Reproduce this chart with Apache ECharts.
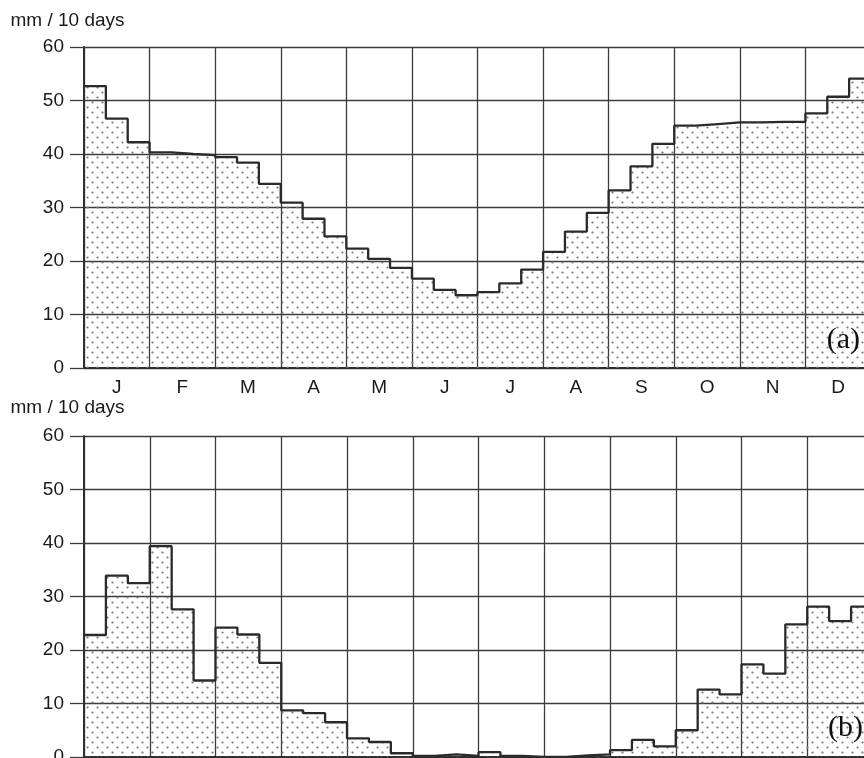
<!DOCTYPE html>
<html>
<head>
<meta charset="utf-8">
<script src="https://cdn.jsdelivr.net/npm/echarts@6/dist/echarts.min.js"></script>
<style>
html,body{margin:0;padding:0;background:#fff;}
#chart{width:864px;height:758px;}
</style>
</head>
<body>
<div id="chart"></div>
<script>
// ---- data ----
const months = ['J','F','M','A','M','J','J','A','S','O','N','D'];
const unitLabel = 'mm / 10 days';
const panelLabels = ['(a)', '(b)'];
// precipitation per 10-day period (36 dekads)
const rainA = [52.7,46.6,42.2, 40.3,40.0,39.8, 39.4,38.4,34.4, 30.9,27.9,24.6,
               22.3,20.4,18.7, 16.7,14.6,13.6, 14.2,15.8,18.4, 21.7,25.5,29.0,
               33.2,37.7,41.9, 45.3,45.6,45.9, 45.9,46.0,46.0, 47.6,50.7,54.1];
const rainB = [22.8,33.9,32.5, 39.4,27.6,14.3, 24.2,22.9,17.6, 8.7,8.2,6.5,
               3.5,2.8,0.7, 0.2,0.5,0.2, 0.9,0.2,0.0, 0.0,0.3,0.5,
               1.3,3.2,2.0, 5.0,12.6,11.7, 17.3,15.6,24.8, 28.1,25.4,28.1];

// ---- dotted pattern ----
function makePattern(){
  const c = document.createElement('canvas');
  c.width = 10; c.height = 10;
  const g = c.getContext('2d');
  g.fillStyle = '#777';
  [[2.5,2.5],[7.5,7.5]].forEach(p=>{ g.beginPath(); g.arc(p[0],p[1],1.1,0,Math.PI*2); g.fill(); });
  return c;
}
const pattern = {image: makePattern(), repeat: 'repeat'};

function stepData(arr){
  const d = arr.map((v,i)=>[i, v]);
  d.push([arr.length, arr[arr.length-1]]);
  return d;
}

const FONT = "'Liberation Sans', Arial, sans-serif";
const lineCol = '#3c3c3c';
const grids = [
  {left: 84, top: 47, width: 787, height: 321, outerBoundsMode:'none', containLabel:false},
  {left: 84, top: 436, width: 789, height: 321, outerBoundsMode:'none', containLabel:false}
];
const xAxes = [], yAxes = [], series = [];
[rainA, rainB].forEach((arr, k)=>{
  xAxes.push({
    type:'value', gridIndex:k, min:0, max:36, interval:3,
    axisLine:{show:true, onZero:false, lineStyle:{color:'#2e2e2e', width:2.2}},
    axisTick:{show:false}, axisLabel:{show:false},
    splitLine:{show:true, lineStyle:{color:lineCol, width:1.3}}
  });
  xAxes.push({
    type:'category', gridIndex:k, data: months, position:'bottom',
    axisLine:{show:false}, axisTick:{show:false}, splitLine:{show:false},
    axisLabel:{show:true, margin:10, fontSize:19, color:'#1a1a1a', fontFamily:FONT, interval:0}
  });
  yAxes.push({
    type:'value', gridIndex:k, min:0, max:60, interval:10,
    axisLine:{show:true, lineStyle:{color:'#2e2e2e', width:2}},
    axisTick:{show:true, length:14, lineStyle:{color:lineCol, width:1.3}},
    axisLabel:{margin:20, fontSize:19, color:'#1a1a1a', fontFamily:FONT},
    splitLine:{show:true, lineStyle:{color:lineCol, width:1.3}}
  });
  series.push({
    type:'line', xAxisIndex: k*2, yAxisIndex:k, step:'end',
    data: stepData(arr), symbol:'none', silent:true, animation:false,
    lineStyle:{color:'#2a2a2a', width:2.3},
    areaStyle:{color: pattern, opacity:1},
    z: 3
  });
});

const chart = echarts.init(document.getElementById('chart'), null, {renderer:'canvas'});
chart.setOption({
  animation:false,
  backgroundColor:'#fff',
  grid: grids,
  xAxis: xAxes,
  yAxis: yAxes,
  series: series,
  graphic: [
    {type:'rect', z:50, shape:{x:0, y:393, width:864, height:6}, style:{fill:'#fff'}},
    {type:'text', z:51, x:10.5, y:20.5, style:{text:unitLabel, font:'19px '+FONT, fill:'#1a1a1a', textVerticalAlign:'middle'}},
    {type:'text', z:51, x:10.5, y:408, style:{text:unitLabel, font:'19px '+FONT, fill:'#1a1a1a', textVerticalAlign:'middle'}},
    {type:'text', z:51, x:860, y:340, style:{text:panelLabels[0], font:"30px 'Liberation Serif', 'Times New Roman', serif", fill:'#111', textAlign:'right', textVerticalAlign:'middle'}},
    {type:'text', z:51, x:863, y:728, style:{text:panelLabels[1], font:"30px 'Liberation Serif', 'Times New Roman', serif", fill:'#111', textAlign:'right', textVerticalAlign:'middle'}}
  ]
});
</script>
</body>
</html>
